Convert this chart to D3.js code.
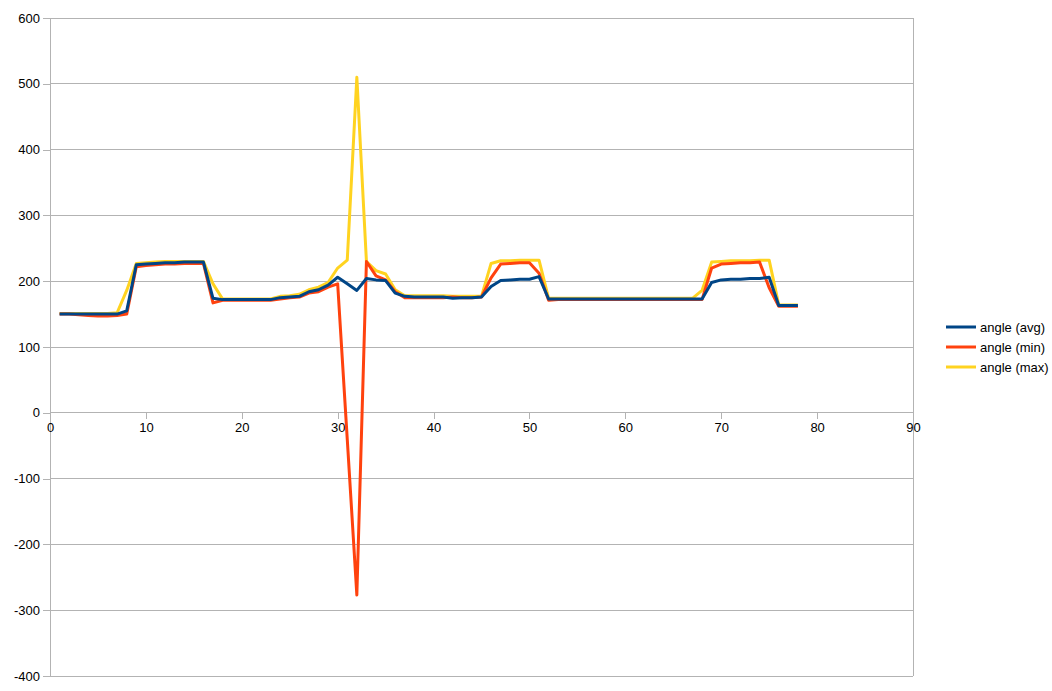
<!DOCTYPE html>
<html>
<head>
<meta charset="utf-8">
<script src="https://cdn.jsdelivr.net/npm/d3@7"></script>
<style>
  body { margin: 0; background: #fff; }
  text { font-family: "Liberation Sans", Arial, sans-serif; font-size: 13px; fill: #000; }
</style>
</head>
<body>
<svg id="chart" width="1052" height="691"></svg>
<script>
// sample index 1..78
var xs = [1,2,3,4,5,6,7,8,9,10,11,12,13,14,15,16,17,18,19,20,21,22,23,24,25,26,27,28,29,30,
  31,32,33,34,35,36,37,38,39,40,41,42,43,44,45,46,47,48,49,50,51,52,53,54,55,56,57,58,59,60,
  61,62,63,64,65,66,67,68,69,70,71,72,73,74,75,76,77,78]

var angleAvg = [150,150,150,150,150,150,150,155,225,226,227,228,228,229,229,229,174,172,172,172,
  172,172,172,175,176,177,184,187,194,206,196,186,204,202,201,182,177,176,176,176,
  176,174,175,175,176,192,201,202,203,203,207,173,173,173,173,173,173,173,173,173,
  173,173,173,173,173,173,173,173,198,202,203,203,204,204,206,163,163,163]

var angleMin = [150,150,149,148,147,147,148,150,222,224,225,226,226,227,227,227,167,171,171,171,
  171,171,171,173,175,176,182,184,191,196,-40,-277,230,208,202,184,175,175,175,175,
  175,176,175,175,176,205,226,227,228,228,212,171,172,172,172,172,172,172,172,172,
  172,172,172,172,172,172,172,172,220,226,227,228,228,229,190,162,162,162]

var angleMax = [151,151,151,151,151,151,152,186,227,228,229,230,230,230,230,230,196,173,173,173,
  173,173,173,177,178,180,187,191,198,220,232,510,230,216,211,187,178,178,178,178,
  178,177,177,177,177,227,231,231,232,232,232,174,174,174,174,174,174,174,174,174,
  174,174,174,174,174,174,174,186,229,230,231,231,231,232,232,164,164,164]

var seriesNames = ["angle (avg)", "angle (min)", "angle (max)"]
var seriesColors = ["#004586", "#ff420e", "#ffd320"]
var xTicks = [0,10,20,30,40,50,60,70,80,90]
var yTicks = [-400,-300,-200,-100,0,100,200,300,400,500,600]

var svg = d3.select("#chart")
var plotLeft = 50, plotTop = 18, plotRight = 913, plotBottom = 676

var x = d3.scaleLinear().domain([0, 90]).range([plotLeft, plotRight])
var y = d3.scaleLinear().domain([-400, 600]).range([plotBottom, plotTop])

// horizontal grid
svg.append("g").selectAll("line")
  .data(yTicks)
  .join("line")
  .attr("x1", plotLeft).attr("x2", plotRight)
  .attr("y1", d => y(d)).attr("y2", d => y(d))
  .attr("stroke", "#b3b3b3").attr("stroke-width", 1)
  .attr("shape-rendering", "crispEdges")

// right border of the wall
svg.append("line")
  .attr("x1", plotRight).attr("x2", plotRight).attr("y1", plotTop).attr("y2", plotBottom)
  .attr("stroke", "#b3b3b3").attr("shape-rendering", "crispEdges")

// y axis (plain hyphen for negatives, like the original)
var yAxis = svg.append("g")
  .attr("transform", "translate(" + plotLeft + ",0)")
  .call(d3.axisLeft(y).tickValues(yTicks).tickFormat(d => String(d)).tickSize(7).tickPadding(3))
yAxis.selectAll("path, line").attr("stroke", "#b3b3b3").attr("shape-rendering", "crispEdges")
yAxis.selectAll("text").style("font-size", "13px").attr("fill", "#000")
yAxis.select(".domain").attr("d", "M0," + plotTop + "V" + plotBottom)

// x axis at zero
var xAxis = svg.append("g")
  .attr("transform", "translate(0," + y(0) + ")")
  .call(d3.axisBottom(x).tickValues(xTicks).tickFormat(d => String(d)).tickSize(6).tickPadding(4))
xAxis.selectAll("path, line").attr("stroke", "#b3b3b3").attr("shape-rendering", "crispEdges")
xAxis.selectAll("text").style("font-size", "13px").attr("fill", "#000")
xAxis.select(".domain").attr("d", "M" + plotLeft + ",0H" + plotRight)

var line = d3.line()
  .x((d, i) => x(xs[i]))
  .y(d => y(d))

var allSeries = [angleAvg, angleMin, angleMax]
// max and min first, avg drawn on top
;[2, 1, 0].forEach(function(k) {
  svg.append("path")
    .datum(allSeries[k])
    .attr("d", line)
    .attr("fill", "none")
    .attr("stroke", seriesColors[k])
    .attr("stroke-width", 3)
    .attr("stroke-linejoin", "round")
})

// legend
var legend = svg.append("g").selectAll("g")
  .data(seriesNames)
  .join("g")
  .attr("transform", (d, i) => "translate(946," + (327 + i * 20) + ")")
legend.append("line")
  .attr("x1", 0).attr("x2", 30)
  .attr("stroke", (d, i) => seriesColors[i])
  .attr("stroke-width", 3)
legend.append("text")
  .attr("x", 34).attr("dy", "0.35em")
  .text(d => d)
</script>
</body>
</html>
